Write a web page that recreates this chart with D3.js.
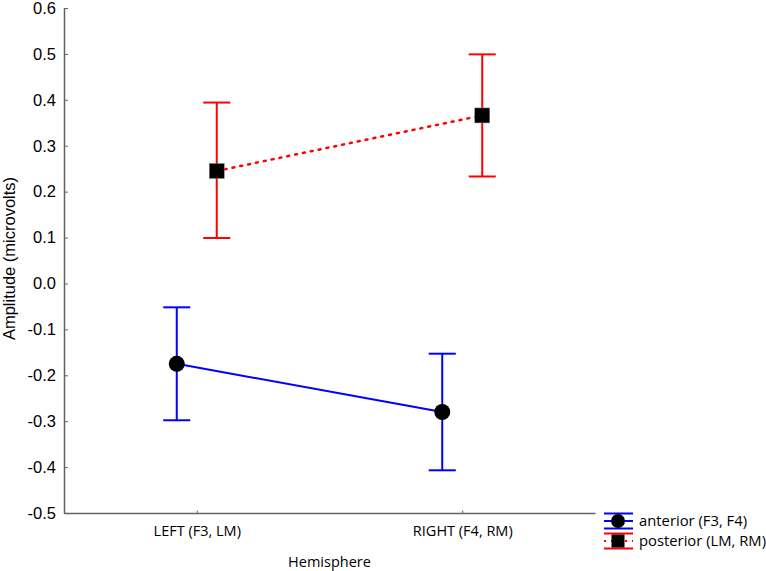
<!DOCTYPE html>
<html>
<head>
<meta charset="utf-8">
<script src="https://cdn.jsdelivr.net/npm/d3@7/dist/d3.min.js"></script>
<style>
  html, body { margin: 0; padding: 0; background: #fff; }
  svg { display: block; }
</style>
</head>
<body>
<script>
// ---- data ----
const categories = ["LEFT (F3, LM)", "RIGHT (F4, RM)"];
const seriesNames = ["anterior (F3, F4)", "posterior (LM, RM)"];
const anteriorMean = [-0.175, -0.280];
const anteriorLow  = [-0.298, -0.407];
const anteriorHigh = [-0.052, -0.153];
const posteriorMean = [0.245, 0.366];
const posteriorLow  = [0.099, 0.233];
const posteriorHigh = [0.394, 0.499];
const yTicks = [0.6, 0.5, 0.4, 0.3, 0.2, 0.1, 0.0, -0.1, -0.2, -0.3, -0.4, -0.5];
const yLabel = "Amplitude (microvolts)";
const xLabel = "Hemisphere";

const W = 766, H = 571;
const mLeft = 64, mRight = 595, mTop = 8, mBottom = 513;

const svg = d3.select("body").append("svg").attr("width", W).attr("height", H);

const x = d3.scalePoint().domain(categories).range([mLeft, mRight]).padding(0.5);
const y = d3.scaleLinear().domain([-0.5, 0.6]).range([mBottom, mTop]);

const axisColor = "#626262";
const fmt = d => (d < 0 ? "-" : "") + Math.abs(d).toFixed(1);

// y axis
const yAxis = svg.append("g").attr("transform", `translate(${mLeft},0)`)
  .call(d3.axisLeft(y).tickValues(yTicks).tickFormat(fmt).tickSizeInner(-4).tickSizeOuter(0).tickPadding(8));
yAxis.select(".domain").attr("stroke", axisColor).attr("stroke-width", 1.5);
yAxis.selectAll(".tick line").attr("stroke", axisColor).attr("stroke-width", 1);
yAxis.selectAll(".tick text").attr("fill", "#000").attr("font-family", "'Liberation Sans', Arial, sans-serif").attr("font-size", 16.5);

// x axis
const xAxis = svg.append("g").attr("transform", `translate(0,${mBottom})`)
  .call(d3.axisBottom(x).tickSizeInner(-2.5).tickSizeOuter(0).tickPadding(13));
xAxis.select(".domain").attr("stroke", axisColor).attr("stroke-width", 1.5);
xAxis.selectAll(".tick line").attr("stroke", axisColor).attr("stroke-width", 1);
xAxis.selectAll(".tick text").attr("fill", "#000").attr("font-family", "'Open Sans', sans-serif").attr("font-size", 14.5);

// axis titles
svg.append("text").attr("transform", `translate(15,${(mTop + mBottom) / 2 - 2}) rotate(-90)`)
  .attr("text-anchor", "middle").attr("font-family", "'Liberation Sans', Arial, sans-serif").attr("font-size", 16.5)
  .attr("fill", "#000").text(yLabel);
svg.append("text").attr("x", (mLeft + mRight) / 2).attr("y", 567)
  .attr("text-anchor", "middle").attr("font-family", "'Open Sans', sans-serif").attr("font-size", 14.5)
  .attr("fill", "#000").text(xLabel);

const series = [
  { name: seriesNames[0], mean: anteriorMean, low: anteriorLow, high: anteriorHigh, color: "#0000ff", dx: -20, dash: null, shape: "circle" },
  { name: seriesNames[1], mean: posteriorMean, low: posteriorLow, high: posteriorHigh, color: "#ff0000", dx: 20, dash: "2,6", shape: "square" }
];

const capHalf = 13.5;

series.forEach(s => {
  const pts = categories.map((c, i) => ({ x: x(c) + s.dx, m: s.mean[i], lo: s.low[i], hi: s.high[i] }));
  const g = svg.append("g");
  const line = d3.line().x(d => d.x).y(d => y(d.m));
  g.append("path").datum(pts).attr("d", line).attr("fill", "none")
    .attr("stroke", s.color).attr("stroke-width", s.dash ? 2.5 : 2)
    .attr("stroke-dasharray", s.dash).attr("stroke-linecap", s.dash ? "round" : "butt");
  pts.forEach(d => {
    g.append("line").attr("x1", d.x).attr("x2", d.x).attr("y1", y(d.hi)).attr("y2", y(d.lo))
      .attr("stroke", s.color).attr("stroke-width", 2);
    [d.hi, d.lo].forEach(v => {
      g.append("line").attr("x1", d.x - capHalf).attr("x2", d.x + capHalf).attr("y1", y(v)).attr("y2", y(v))
        .attr("stroke", s.color).attr("stroke-width", 2);
    });
  });
  pts.forEach(d => {
    if (s.shape === "circle") {
      g.append("circle").attr("cx", d.x).attr("cy", y(d.m)).attr("r", 8).attr("fill", "#000");
    } else {
      g.append("rect").attr("x", d.x - 7.5).attr("y", y(d.m) - 7.5).attr("width", 15).attr("height", 15)
        .attr("fill", "#000").attr("stroke", "#888").attr("stroke-width", 0.5);
    }
  });
});

// legend
const legend = svg.append("g");
series.forEach((s, i) => {
  const cy = 521 + i * 20;
  const lx0 = 604, lx1 = 633, mx = 618;
  const g = legend.append("g");
  g.append("line").attr("x1", lx0).attr("x2", lx1).attr("y1", cy - 7.5).attr("y2", cy - 7.5).attr("stroke", s.color).attr("stroke-width", 2);
  g.append("line").attr("x1", lx0).attr("x2", lx1).attr("y1", cy + 7.5).attr("y2", cy + 7.5).attr("stroke", s.color).attr("stroke-width", 2);
  g.append("line").attr("x1", lx0).attr("x2", lx1).attr("y1", cy).attr("y2", cy).attr("stroke", s.color)
    .attr("stroke-width", 2).attr("stroke-dasharray", s.dash ? "2,5" : null);
  if (s.shape === "circle") {
    g.append("circle").attr("cx", mx).attr("cy", cy).attr("r", 7).attr("fill", "#000");
  } else {
    g.append("rect").attr("x", mx - 6.5).attr("y", cy - 6.5).attr("width", 13).attr("height", 13).attr("fill", "#000");
  }
  g.append("text").attr("x", 639).attr("y", cy + 5).attr("font-family", "'Open Sans', sans-serif").attr("font-size", 14.8)
    .attr("fill", "#000").text(s.name);
});
</script>
</body>
</html>
